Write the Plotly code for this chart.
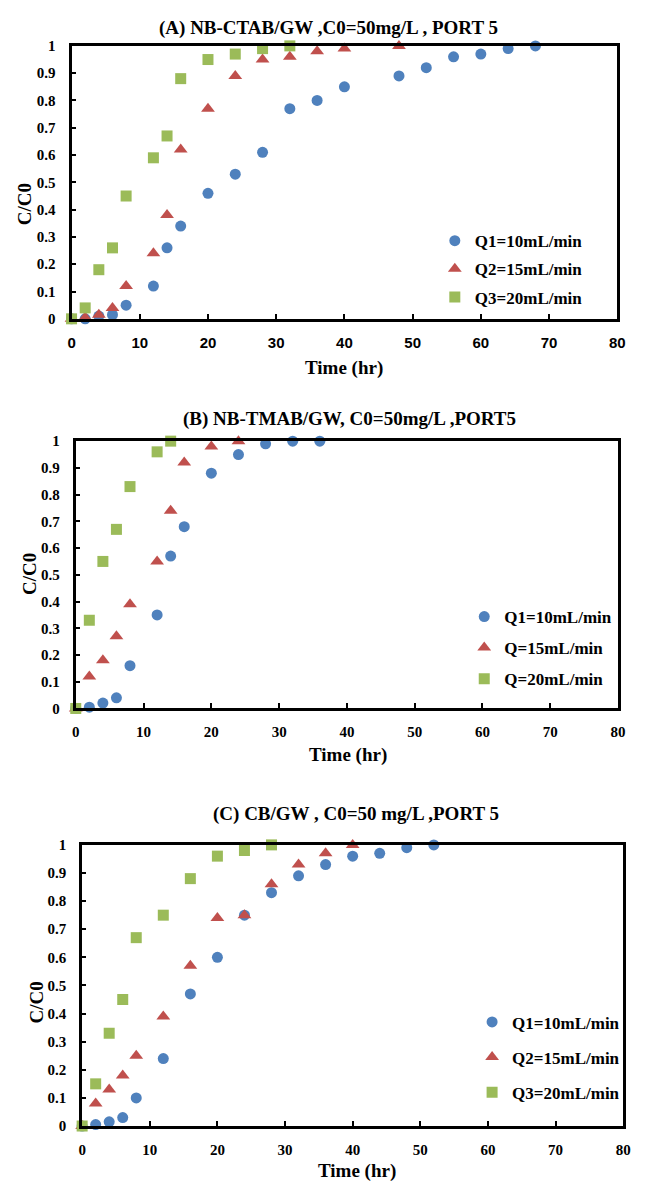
import plotly.graph_objects as go

# ---------------- data ----------------
# Panel A : NB-CTAB/GW
a_q1_t = [0, 2, 4, 6, 8, 12, 14, 16, 20, 24, 28, 32, 36, 40, 48, 52, 56, 60, 64, 68]
a_q1_c = [0, 0.0, 0.01, 0.015, 0.05, 0.12, 0.26, 0.34, 0.46, 0.53, 0.61, 0.77, 0.80, 0.85, 0.89, 0.92, 0.96, 0.97, 0.99, 1.0]
a_q2_t = [0, 2, 4, 6, 8, 12, 14, 16, 20, 24, 28, 32, 36, 40, 48]
a_q2_c = [0, 0.005, 0.015, 0.04, 0.12, 0.24, 0.38, 0.62, 0.77, 0.89, 0.95, 0.96, 0.98, 0.99, 1.0]
a_q3_t = [0, 2, 4, 6, 8, 12, 14, 16, 20, 24, 28, 32]
a_q3_c = [0, 0.04, 0.18, 0.26, 0.45, 0.59, 0.67, 0.88, 0.95, 0.97, 0.99, 1.0]

# Panel B : NB-TMAB/GW
b_q1_t = [0, 2, 4, 6, 8, 12, 14, 16, 20, 24, 28, 32, 36]
b_q1_c = [0, 0.005, 0.02, 0.04, 0.16, 0.35, 0.57, 0.68, 0.88, 0.95, 0.99, 1.0, 1.0]
b_q2_t = [0, 2, 4, 6, 8, 12, 14, 16, 20, 24]
b_q2_c = [0, 0.12, 0.18, 0.27, 0.39, 0.55, 0.74, 0.92, 0.98, 1.0]
b_q3_t = [0, 2, 4, 6, 8, 12, 14]
b_q3_c = [0, 0.33, 0.55, 0.67, 0.83, 0.96, 1.0]

# Panel C : CB/GW
c_q1_t = [0, 2, 4, 6, 8, 12, 16, 20, 24, 28, 32, 36, 40, 44, 48, 52]
c_q1_c = [0, 0.005, 0.015, 0.03, 0.10, 0.24, 0.47, 0.60, 0.75, 0.83, 0.89, 0.93, 0.96, 0.97, 0.99, 1.0]
c_q2_t = [0, 2, 4, 6, 8, 12, 16, 20, 24, 28, 32, 36, 40]
c_q2_c = [0, 0.08, 0.13, 0.18, 0.25, 0.39, 0.57, 0.74, 0.75, 0.86, 0.93, 0.97, 1.0]
c_q3_t = [0, 2, 4, 6, 8, 12, 16, 20, 24, 28]
c_q3_c = [0, 0.15, 0.33, 0.45, 0.67, 0.75, 0.88, 0.96, 0.98, 1.0]

titles = ["(A) NB-CTAB/GW ,C0=50mg/L , PORT 5",
          "(B) NB-TMAB/GW, C0=50mg/L ,PORT5",
          "(C) CB/GW , C0=50 mg/L ,PORT 5"]
names_a = ["Q1=10mL/min", "Q2=15mL/min", "Q3=20mL/min"]
names_b = ["Q1=10mL/min", "Q=15mL/min", "Q=20mL/min"]
names_c = ["Q1=10mL/min", "Q2=15mL/min", "Q3=20mL/min"]

x_ticks = [0, 10, 20, 30, 40, 50, 60, 70, 80]
y_ticks = [0, 0.1, 0.2, 0.3, 0.4, 0.5, 0.6, 0.7, 0.8, 0.9, 1]
y_ticktext = ["0", "0.1", "0.2", "0.3", "0.4", "0.5", "0.6", "0.7", "0.8", "0.9", "1"]

colors = ["#4F81BD", "#C0504D", "#9BBB59"]
symbols = ["circle", "triangle-up", "square"]
sizes = [11, 12, 11]

# page body has an 8px margin; keep the whole figure inside the 648x1194 window
OFF = 8
W, H = 648 - 2 * OFF, 1194 - 2 * OFF
SERIF = "Liberation Serif"
SANS = "Liberation Sans"

# panel boxes in window pixels: (left, right, top, bottom)
boxes = [(68.7, 625.0, 38.3, 315.0),
         (73.0, 625.8, 439.0, 710.0),
         (79.5, 631.0, 848.3, 1133.3)]


def px(x):
    return (x - OFF) / W


def py(y):
    return 1 - (y - OFF) / H


fig = go.Figure()

panels = [
    ([(a_q1_t, a_q1_c), (a_q2_t, a_q2_c), (a_q3_t, a_q3_c)], names_a),
    ([(b_q1_t, b_q1_c), (b_q2_t, b_q2_c), (b_q3_t, b_q3_c)], names_b),
    ([(c_q1_t, c_q1_c), (c_q2_t, c_q2_c), (c_q3_t, c_q3_c)], names_c),
]

legend_names = ["legend", "legend2", "legend3"]
for p, (series, names) in enumerate(panels):
    xa = "x" if p == 0 else f"x{p+1}"
    ya = "y" if p == 0 else f"y{p+1}"
    for i, (t, c) in enumerate(series):
        fig.add_trace(go.Scatter(
            x=t, y=c, mode="markers", name=names[i],
            xaxis=xa, yaxis=ya,
            marker=dict(color=colors[i], symbol=symbols[i], size=sizes[i], line=dict(width=0)),
            cliponaxis=False,
            legend=legend_names[p],
            legendgroup=f"p{p}g{i}",
        ))

layout = dict(
    width=W, height=H,
    margin=dict(l=0, r=0, t=0, b=0),
    paper_bgcolor="white", plot_bgcolor="white",
    showlegend=True,
    font=dict(family=SERIF, color="black"),
)

x_tick_fonts = [SANS, SERIF, SERIF]
for p, (l, r, t, b) in enumerate(boxes):
    sfx = "" if p == 0 else str(p + 1)
    layout["xaxis" + sfx] = dict(
        domain=[px(l), px(r)], anchor="y" + sfx, range=[0, 80],
        tickvals=x_ticks, ticks="inside", ticklen=5, tickwidth=2, tickcolor="black",
        showline=True, mirror=True, linecolor="black", linewidth=3,
        showgrid=False, zeroline=False,
        tickfont=dict(family=x_tick_fonts[p], size=15, color="black", weight="bold"),
        ticklabelstandoff=8,
    )
    layout["yaxis" + sfx] = dict(
        domain=[py(b), py(t)], anchor="x" + sfx, range=[0, 1],
        tickvals=y_ticks, ticktext=y_ticktext, ticks="inside", ticklen=4, tickwidth=2,
        tickcolor="black",
        showline=True, mirror=True, linecolor="black", linewidth=3,
        showgrid=False, zeroline=False,
        tickfont=dict(family=SERIF, size=15, color="black", weight="bold"),
        ticklabelstandoff=10,
    )

# text positions in window pixels
title_pos = [(330.4, 20), (352.5, 416.5), (358.7, 816.5)]
xtitle_pos = [(346.7, 365), (350.8, 757), (359.5, 1179)]
ytitle_pos = [(21, 199), (26, 574), (32.5, 1008)]

annotations = []
for p in range(3):
    annotations.append(dict(
        text="<b>" + titles[p] + "</b>", x=px(title_pos[p][0]), y=py(title_pos[p][1]),
        xref="paper", yref="paper", showarrow=False, xanchor="center", yanchor="middle",
        font=dict(family=SERIF, size=19, color="black"),
    ))
    annotations.append(dict(
        text="<b>Time (hr)</b>", x=px(xtitle_pos[p][0]), y=py(xtitle_pos[p][1]),
        xref="paper", yref="paper", showarrow=False, xanchor="center", yanchor="middle",
        font=dict(family=SERIF, size=19, color="black"),
    ))
    annotations.append(dict(
        text="<b>C/C0</b>", x=px(ytitle_pos[p][0]), y=py(ytitle_pos[p][1]),
        xref="paper", yref="paper", showarrow=False, xanchor="center", yanchor="middle",
        textangle=-90,
        font=dict(family=SERIF, size=19, color="black"),
    ))
layout["annotations"] = annotations

# legends: (left px, top px, group gap)
leg_pos = [(439, 218, 3), (469, 599, 6), (477, 1010, 10)]
for p, (lx, ly, gap) in enumerate(leg_pos):
    layout[legend_names[p]] = dict(
        x=px(lx), y=py(ly), xanchor="left", yanchor="top",
        xref="paper", yref="paper",
        bgcolor="rgba(0,0,0,0)", borderwidth=0,
        font=dict(family=SERIF, size=17, color="black", weight="bold"),
        traceorder="grouped", tracegroupgap=gap,
        itemwidth=30,
    )

fig.update_layout(**layout)
fig.write_html("out.html")
